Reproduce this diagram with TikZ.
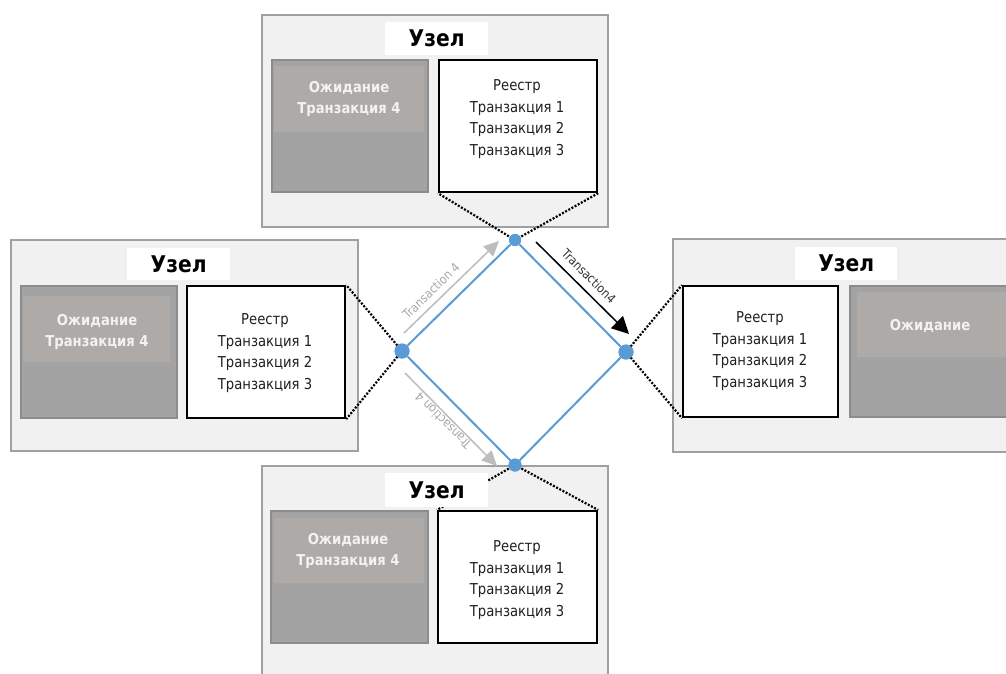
\documentclass[tikz,border=0pt]{standalone}
\usepackage{fontspec}
\setmainfont{DejaVu Sans}[FakeStretch=0.88]
\usetikzlibrary{arrows.meta,calc}
\definecolor{panel}{HTML}{F1F1F1}
\definecolor{panelrule}{HTML}{A0A0A0}
\definecolor{pendfill}{HTML}{A3A3A3}
\definecolor{pendrule}{HTML}{8C8C8C}
\definecolor{pendtop}{HTML}{AEAAA8}
\definecolor{pendtxt}{HTML}{F2F2F2}
\definecolor{linkblue}{HTML}{5B9BD5}
\definecolor{ghost}{HTML}{BDBDBD}
\definecolor{ghosttxt}{HTML}{A8A8A8}

\begin{document}
\begin{tikzpicture}[x=1pt,y=-1pt,
  peerbox/.style={draw=panelrule,fill=panel,line width=1.5pt,anchor=north west,inner sep=0pt},
  titlebox/.style={fill=white,anchor=north west,inner sep=0pt,minimum width=103pt,minimum height=33pt,
    font=\fontsize{23}{26}\selectfont\bfseries},
  pendbox/.style={draw=pendrule,fill=pendfill,line width=1.5pt,anchor=north west,inner sep=0pt,
    minimum width=156pt,minimum height=132pt},
  ledgerbox/.style={draw=black,fill=white,line width=2.2pt,anchor=north west,inner sep=0pt,
    minimum width=158pt,minimum height=132pt},
  ledgertext/.style={align=center,text=black!88,font=\fontsize{15}{21.5}\selectfont,inner sep=0pt},
  pendtext/.style={align=center,text=pendtxt,font=\fontsize{15}{21.5}\selectfont\bfseries,inner sep=0pt},
  hub/.style={circle,fill=linkblue,inner sep=0pt,minimum size=#1},
  hub/.default=13pt,
  tether/.style={line width=2.2pt,dash pattern=on 2pt off 1.6pt},
  link/.style={draw=linkblue,line width=2pt},
  ghostarrow/.style={draw=ghost,line width=1.5pt,-{Triangle[length=15pt,width=14pt]}},
  sendarrow/.style={draw=black,line width=1.5pt,-{Triangle[length=17pt,width=17pt]}},
  msg/.style={font=\fontsize{12.5}{13}\selectfont,inner sep=0pt}
]
\useasboundingbox (0,0) rectangle (1006,673);
\clip (0,0) rectangle (1006,673);
\fill[white] (0,0) rectangle (1006,673);

% ---- peer panels ----
\node[peerbox,minimum width=346pt,minimum height=212pt] (topP) at (261,14) {};
\node[peerbox,minimum width=347pt,minimum height=211pt] (leftP) at (10,239) {};
\node[peerbox,minimum width=345pt,minimum height=213pt] (rightP) at (672,238) {};
\node[peerbox,minimum width=346pt,minimum height=230pt] (botP) at (261,465) {};

% ---- pending pools ----
\node[pendbox] (topPend) at (271,59) {};
\fill[pendtop] (274,66) rectangle (424,132);
\node[pendtext] (topPendT) at (349,99) {Ожидание\\Транзакция 4};

\node[pendbox] (leftPend) at (20,285) {};
\fill[pendtop] (23,296) rectangle (170,362);
\node[pendtext] (leftPendT) at (97,332) {Ожидание\\Транзакция 4};

\node[pendbox,minimum width=170pt,minimum height=131pt] (rightPend) at (849,285) {};
\fill[pendtop] (857,292) rectangle (1010,357);
\node[pendtext] (rightPendT) at (930,326) {Ожидание};

\node[pendbox,minimum width=157pt] (botPend) at (270,510) {};
\fill[pendtop] (274,518) rectangle (424,583);
\node[pendtext] (botPendT) at (348,551) {Ожидание\\Транзакция 4};

% ---- ledgers ----
\node[ledgerbox] (topLed) at (438,59) {};
\node[ledgertext] (topLedT) at (517,119) {Реестр\\Транзакция 1\\Транзакция 2\\Транзакция 3};

\node[ledgerbox] (leftLed) at (186,285) {};
\node[ledgertext] (leftLedT) at (265,353) {Реестр\\Транзакция 1\\Транзакция 2\\Транзакция 3};

\node[ledgerbox,minimum width=155pt,minimum height=131pt] (rightLed) at (682,285) {};
\node[ledgertext] (rightLedT) at (760,351) {Реестр\\Транзакция 1\\Транзакция 2\\Транзакция 3};

\node[ledgerbox,minimum width=159pt] (botLed) at (437,510) {};
\node[ledgertext] (botLedT) at (517,580) {Реестр\\Транзакция 1\\Транзакция 2\\Транзакция 3};

% ---- network hubs ----
\node[hub=12pt] (hTop) at (515,240) {};
\node[hub=15pt] (hLeft) at (402,351) {};
\node[hub=15pt] (hRight) at (626,352) {};
\node[hub=13pt] (hBot) at (515,465) {};

% ---- dotted tethers from hubs to ledgers ----
\draw[tether] (hTop.center) -- (topLed.south west);
\draw[tether] (hTop.center) -- (topLed.south east);
\draw[tether] (hLeft.center) -- (leftLed.north east);
\draw[tether] (hLeft.center) -- (leftLed.south east);
\draw[tether] (hRight.center) -- (rightLed.north west);
\draw[tether] (hRight.center) -- (rightLed.south west);
\draw[tether] (hBot.center) -- (botLed.north west);
\draw[tether] (hBot.center) -- (botLed.north east);

% ---- titles ----
\node[titlebox] (topTitle) at (385,22) {Узел};
\node[titlebox,minimum height=32pt] (leftTitle) at (127,248) {Узел};
\node[titlebox,minimum width=102pt] (rightTitle) at (795,247) {Узел};
\node[titlebox,minimum height=34pt] (botTitle) at (385,473) {Узел};

% ---- network links ----
\draw[link] (hLeft) -- (hTop);
\draw[link] (hTop) -- (hRight);
\draw[link] (hRight) -- (hBot);
\draw[link] (hBot) -- (hLeft);
\node[hub=12pt] at (hTop) {};
\node[hub=15pt] at (hLeft) {};
\node[hub=15pt] at (hRight) {};
\node[hub=13pt] at (hBot) {};

% ---- transaction messages ----
\coordinate (a1s) at (404,333);
\coordinate (a1e) at (499,241);
\coordinate (a2s) at (536,242);
\coordinate (a2e) at (629,334);
\coordinate (a3s) at (405,373);
\coordinate (a3e) at (497,466);
\draw[ghostarrow] (a1s) -- (a1e);
\draw[sendarrow] (a2s) -- (a2e);
\draw[ghostarrow] (a3s) -- (a3e);
\node[msg,text=ghosttxt,rotate=44] (m1) at (431,291) {Transaction 4};
\node[msg,text=black!80,rotate=-45] (m2) at (589,276) {Transaction4};
\node[msg,text=ghosttxt,rotate=135] (m3) at (443,421) {Transaction 4};
\end{tikzpicture}
\end{document}
